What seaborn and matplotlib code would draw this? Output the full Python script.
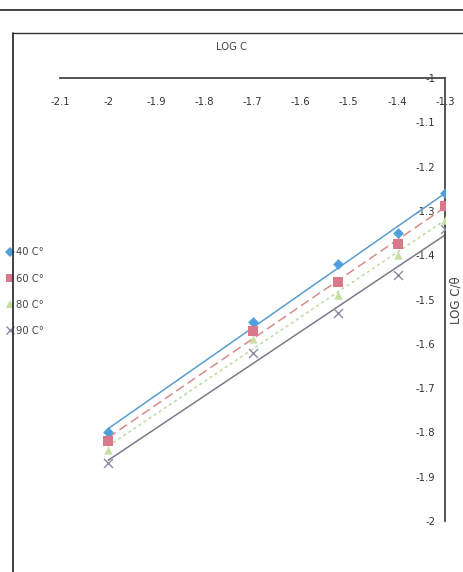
import numpy as np
import pandas as pd
import matplotlib
matplotlib.use("Agg")
import matplotlib.pyplot as plt
import seaborn as sns
from matplotlib.lines import Line2D
from matplotlib import font_manager

# -------------------------------
# Data
# -------------------------------
log_c = [-2.0, -1.699, -1.523, -1.398, -1.301]
t40 = [-1.80, -1.55, -1.42, -1.35, -1.26]
t60 = [-1.82, -1.57, -1.46, -1.375, -1.29]
t80 = [-1.84, -1.59, -1.49, -1.40, -1.32]
t90 = [-1.87, -1.62, -1.53, -1.445, -1.34]
series_names = ["40 C\u00b0", "60 C\u00b0", "80 C\u00b0", "90 C\u00b0"]
x_ticks = [-2.1, -2, -1.9, -1.8, -1.7, -1.6, -1.5, -1.4, -1.3]
y_ticks = [-2, -1.9, -1.8, -1.7, -1.6, -1.5, -1.4, -1.3, -1.2, -1.1, -1]

df = pd.DataFrame({
    "logc": log_c * 4,
    "val": t40 + t60 + t80 + t90,
    "temp": [n for n in series_names for _ in log_c],
})

sns.set_theme(style="white")
# narrow face if one is around, else condensed DejaVu
names = {f.name for f in font_manager.fontManager.ttflist}
narrow = [n for n in ["Liberation Sans Narrow", "DejaVu Sans Condensed"] if n in names]
plt.rcParams["font.family"] = narrow + ["DejaVu Sans"]
plt.rcParams["font.stretch"] = "condensed"

colors = {"40 C\u00b0": "#4f9fdc", "60 C\u00b0": "#d9788a",
          "80 C\u00b0": "#c5e0a0", "90 C\u00b0": "#8c8ca4"}
markers = {"40 C\u00b0": "D", "60 C\u00b0": "s", "80 C\u00b0": "^", "90 C\u00b0": "x"}
sizes = {"40 C\u00b0": 30, "60 C\u00b0": 42, "80 C\u00b0": 36, "90 C\u00b0": 42}
line_colors = {"40 C\u00b0": "#5a9ccf", "60 C\u00b0": "#d98a8a",
               "80 C\u00b0": "#bcdca0", "90 C\u00b0": "#7a7a8c"}
line_styles = {"40 C\u00b0": "-", "60 C\u00b0": (0, (6, 3)),
               "80 C\u00b0": (0, (2, 2)), "90 C\u00b0": "-"}

W, H = 464, 572
fig = plt.figure(figsize=(W / 100, H / 100), dpi=100)
fig.patch.set_facecolor("white")
ax = fig.add_axes([60 / W, 1 - 521 / H, (445 - 60) / W, (521 - 78) / H])
ax.set_facecolor("white")

# linear trendlines
for name in series_names:
    sub = df[df["temp"] == name]
    sns.regplot(data=sub, x="logc", y="val", ax=ax, ci=None, scatter=False,
                line_kws={"color": line_colors[name], "lw": 1.1,
                          "linestyle": line_styles[name]})

# markers, one series at a time
handles = []
for name in series_names:
    sub = df[df["temp"] == name]
    if markers[name] == "x":
        sns.scatterplot(data=sub, x="logc", y="val", ax=ax, marker="x",
                        color=colors[name], s=sizes[name], linewidth=1.0, zorder=3)
    else:
        sns.scatterplot(data=sub, x="logc", y="val", ax=ax, marker=markers[name],
                        color=colors[name], s=sizes[name], linewidth=0, zorder=3)
    handles.append(Line2D([], [], linestyle="none", marker=markers[name],
                          color=colors[name], markersize=5.5,
                          markeredgewidth=1.0 if markers[name] == "x" else 0))

ax.set_xlim(-2.1, -1.3)
ax.set_ylim(-2, -1)
ax.set_xticks(x_ticks)
ax.set_yticks(y_ticks)
ax.set_xticklabels([f"{v:g}" for v in x_ticks])
ax.set_yticklabels([f"{v:g}" for v in y_ticks])

for side in ["left", "bottom"]:
    ax.spines[side].set_visible(False)
for side in ["top", "right"]:
    ax.spines[side].set_visible(True)
    ax.spines[side].set_color("#444444")
    ax.spines[side].set_linewidth(1.3)

ax.xaxis.tick_top()
ax.yaxis.tick_right()
ax.tick_params(axis="x", length=0, pad=-21, labelsize=8, colors="#333333")
ax.tick_params(axis="y", length=0, pad=-7, labelsize=8, colors="#333333")
for lab in ax.get_yticklabels():
    lab.set_horizontalalignment("right")

ax.set_xlabel("LOG C", fontsize=8, color="#444444")
ax.xaxis.set_label_position("top")
ax.xaxis.set_label_coords((232 - 60) / 385, 1 + (78 - 47) / 443)
ax.xaxis.label.set_verticalalignment("center")

ax.set_ylabel("LOG C/\u03b8", fontsize=8.5, color="#444444", rotation=90,
              family="DejaVu Sans", fontstretch="normal")
ax.yaxis.set_label_position("right")
ax.yaxis.set_label_coords(1 + (456 - 445) / 385, (521 - 300) / 443)
ax.yaxis.label.set_verticalalignment("center")

# legend on the left side
ax.legend(handles, series_names, loc="upper left",
          bbox_to_anchor=(0 / W, 1 - 243 / H), bbox_transform=fig.transFigure,
          frameon=False, fontsize=8, handletextpad=0.0,
          handlelength=1.0, labelspacing=1.45, borderaxespad=0.0,
          labelcolor="#444444")

# scanned page frame
fig.add_artist(Line2D([0, 1], [1 - 10 / H, 1 - 10 / H], color="#333333", lw=1.3,
                      transform=fig.transFigure))
fig.add_artist(Line2D([13 / W, 1], [1 - 33 / H, 1 - 33 / H], color="#333333", lw=1.0,
                      transform=fig.transFigure))
fig.add_artist(Line2D([13 / W, 13 / W], [1 - 33 / H, 0], color="#333333", lw=1.3,
                      transform=fig.transFigure))

fig.savefig("out.png", dpi=100)
